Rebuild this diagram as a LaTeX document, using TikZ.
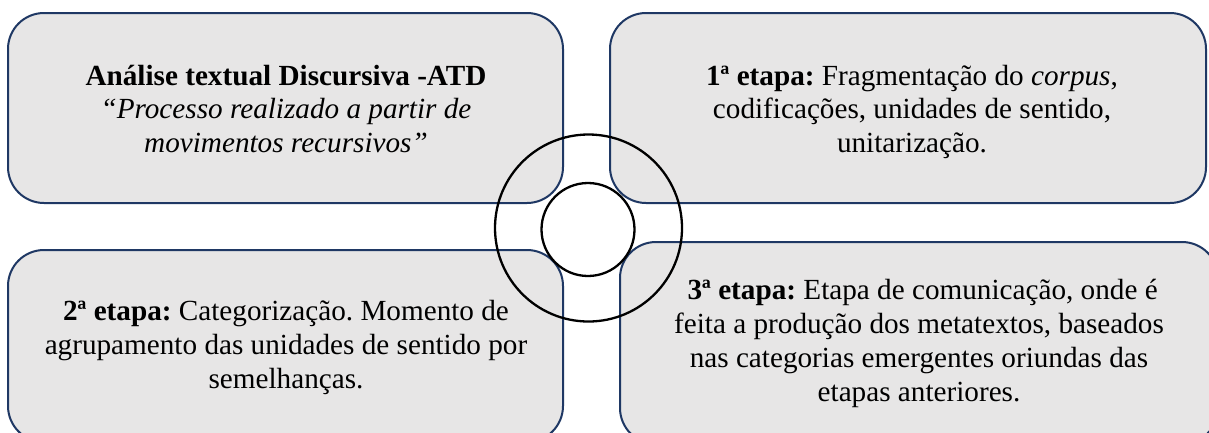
\documentclass[tikz,border=0pt]{standalone}
\usepackage{fontspec}
\setmainfont{Liberation Serif}
\frenchspacing
\definecolor{boxgray}{RGB}{231,230,230}
\definecolor{navy}{RGB}{31,56,100}
\begin{document}
\begin{tikzpicture}[x=1pt,y=-1pt,
  box/.style={draw=navy, line width=2pt, fill=boxgray, rounded corners=36pt, inner sep=0pt},
  txt/.style={align=center, inner sep=0pt, anchor=base, font=\fontsize{29.2}{33.5}\selectfont},
  txtb/.style={txt, font=\fontsize{29.2}{34}\selectfont},
  ring/.style={circle, draw=black, line width=2.3pt, inner sep=0pt}]
\clip (0,0) rectangle (1209,432);
\fill[white] (0,0) rectangle (1209,432);
\node[box, minimum width=555pt, minimum height=190pt] (b1) at (285.5,108) {};
\node[box, minimum width=596pt, minimum height=190pt] (b2) at (908,108) {};
\node[box, minimum width=555pt, minimum height=192pt] (b3) at (285.5,346) {};
\node[box, minimum width=598pt, minimum height=202pt] (b4) at (919,343) {};
\node[txt] (t1) at (286,152) {\textbf{Análise textual Discursiva -ATD}\\\textit{“Processo realizado a partir de}\\\textit{movimentos recursivos”}};
\node[txt] (t2) at (912,152) {\textbf{1ª etapa:} Fragmentação do \textit{corpus},\\codificações, unidades de sentido,\\unitarização.};
\node[txtb] (t3) at (286,388) {\textbf{2ª etapa:} Categorização. Momento de\\agrupamento das unidades de sentido por\\semelhanças.};
\node[txtb] (t4) at (919,401) {\ \textbf{3ª etapa:} Etapa de comunicação, onde é\\feita a produção dos metatextos, baseados\\nas categorias emergentes oriundas das\\etapas anteriores.};
\node[ring, minimum size=187pt] (c1) at (588.5,228) {};
\node[ring, fill=white, minimum size=93pt] (c2) at (588,229.5) {};
\end{tikzpicture}
\end{document}
